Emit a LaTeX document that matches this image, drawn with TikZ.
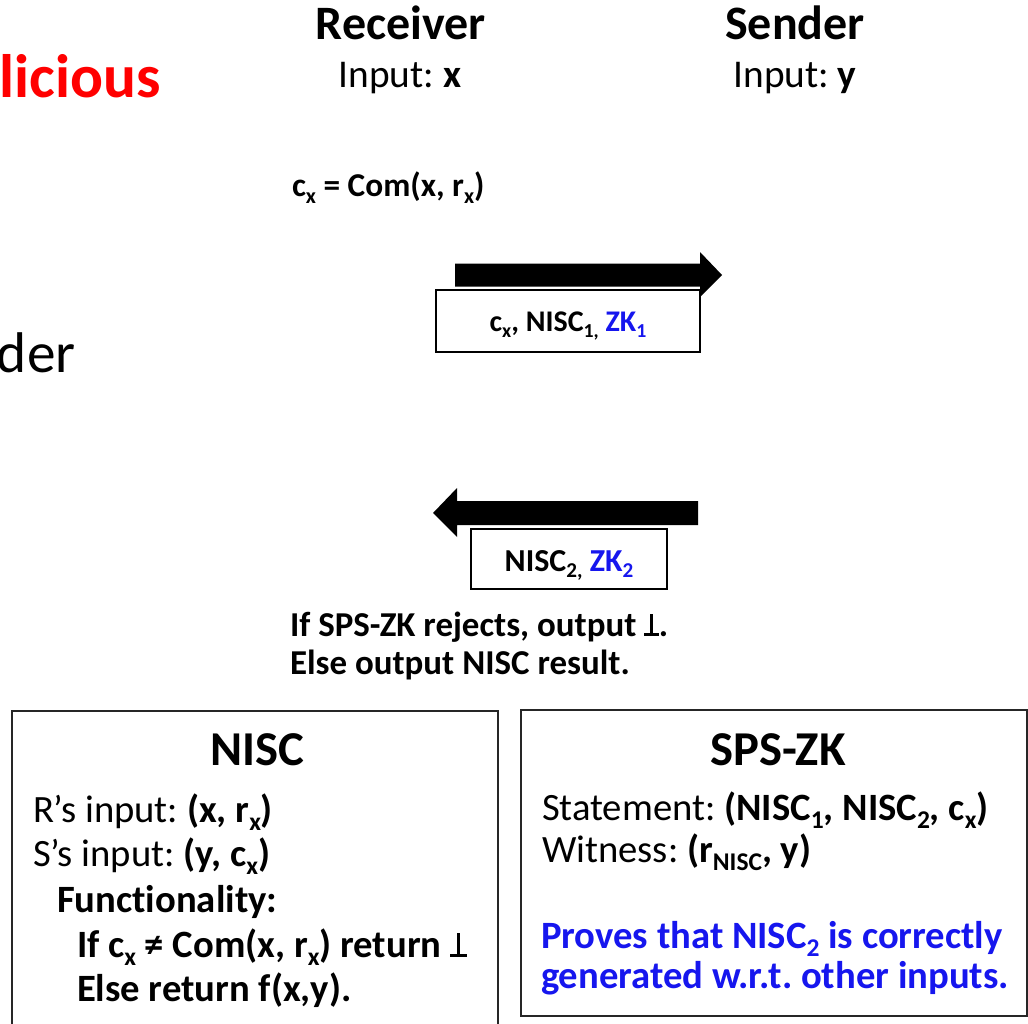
\documentclass[tikz,border=0pt]{standalone}
\usepackage{fontspec}
\setmainfont{Carlito}[Ligatures={NoCommon}]
\definecolor{zkblue}{RGB}{22,22,238}
\definecolor{malred}{RGB}{255,0,0}
\newcommand\sbx[1]{\raisebox{-0.21em}{\scalebox{0.66}{#1}}}
\newcommand\fs[1]{\fontsize{#1}{#1}\selectfont\frenchspacing}
\newcommand\upt{\mbox{\rlap{\rule{0.42em}{0.085em}}\hspace{0.1675em}\rule{0.085em}{0.62em}\hspace{0.1675em}}}
\begin{document}
\begin{tikzpicture}[x=0.75pt,y=-0.75pt,
  txt/.style={inner sep=0pt,outer sep=0pt,anchor=base west},
  ctxt/.style={inner sep=0pt,outer sep=0pt,anchor=base},
  msgbox/.style={draw=black,line width=1.5pt,fill=white},
  bigbox/.style={draw=black!85,line width=1.5pt},
  blockarrow/.style={fill=black,draw=none}]
\useasboundingbox (0,0) rectangle (1028,1024);
\fill[white] (0,0) rectangle (1028,1024);

% header
\node[ctxt] (recv) at (401,40) {\fs{36}\bfseries Receiver};
\node[ctxt] (recvin) at (400,88) {\fs{29.5}Input: \textbf{x}};
\node[ctxt] (send) at (795,40) {\fs{36}\bfseries Sender};
\node[ctxt] (sendin) at (795,88) {\fs{29.5}Input: \textbf{y}};
\node[inner sep=0pt,anchor=base east,text=malred] (mal) at (161,98) {\fs{46}\bfseries licious};
\node[txt] (der) at (-3,372) {\fs{43}der};

\node[txt] (com) at (292,196) {\fs{25}\bfseries c\sbx{x} = Com(x, r\sbx{x})};

% message 1
\draw[msgbox] (436,290) rectangle (700,352);
\node[ctxt] (m1) at (568,331) {\fs{22.5}\bfseries c\sbx{x}, NISC\sbx{1,} \textcolor{zkblue}{ZK\sbx{1}}};
\fill[blockarrow] (455,263.5) -- (700,263.5) -- (700,252) -- (722,275) -- (700,297) -- (700,286.5) -- (455,286.5) -- cycle;

% message 2
\fill[blockarrow] (698,501) -- (457,501) -- (457,488) -- (433,513) -- (457,537) -- (457,525) -- (698,525) -- cycle;
\draw[msgbox] (471,529) rectangle (667,589);
\node[ctxt] (m2) at (569,571) {\fs{24}\bfseries NISC\sbx{2,} \textcolor{zkblue}{ZK\sbx{2}}};

\node[txt] (out1) at (290,636) {\fs{26.2}\bfseries If SPS-ZK rejects, output \upt.};
\node[txt] (out2) at (290,674) {\fs{26.2}\bfseries Else output NISC result.};

% NISC box
\draw[bigbox] (12,1040) -- (12,711) -- (498,711) -- (498,1040);
\node[ctxt] (nisct) at (257,765) {\fs{36.5}\bfseries NISC};
\node[txt] (rin) at (33,822) {\fs{29}R’s input: \textbf{(x, r\sbx{x})}};
\node[txt] (sin) at (33,866) {\fs{29}S’s input: \textbf{(y, c\sbx{x})}};
\node[txt] (func) at (57,912) {\fs{29}\bfseries Functionality:};
\node[txt] (ifc) at (77,957) {\fs{29}\bfseries If c\sbx{x} ≠ Com(x, r\sbx{x}) return \upt};
\node[txt] (els) at (77,1001) {\fs{29}\bfseries Else return f(x,y).};

% SPS-ZK box
\draw[bigbox] (521,710) rectangle (1027,1016);
\node[ctxt] (zkt) at (778,765) {\fs{36.5}\bfseries SPS-ZK};
\node[txt] (stm) at (542,820) {\fs{29}Statement: \textbf{(NISC\sbx{1}, NISC\sbx{2}, c\sbx{x})}};
\node[txt] (wit) at (542,862) {\fs{29}Witness: \textbf{(r\sbx{NISC}, y)}};
\node[txt,text=zkblue] (prv1) at (541,948) {\fs{29}\bfseries Proves that NISC\sbx{2} is correctly};
\node[txt,text=zkblue] (prv2) at (541,988) {\fs{29}\bfseries generated w.r.t. other inputs.};
\end{tikzpicture}
\end{document}
